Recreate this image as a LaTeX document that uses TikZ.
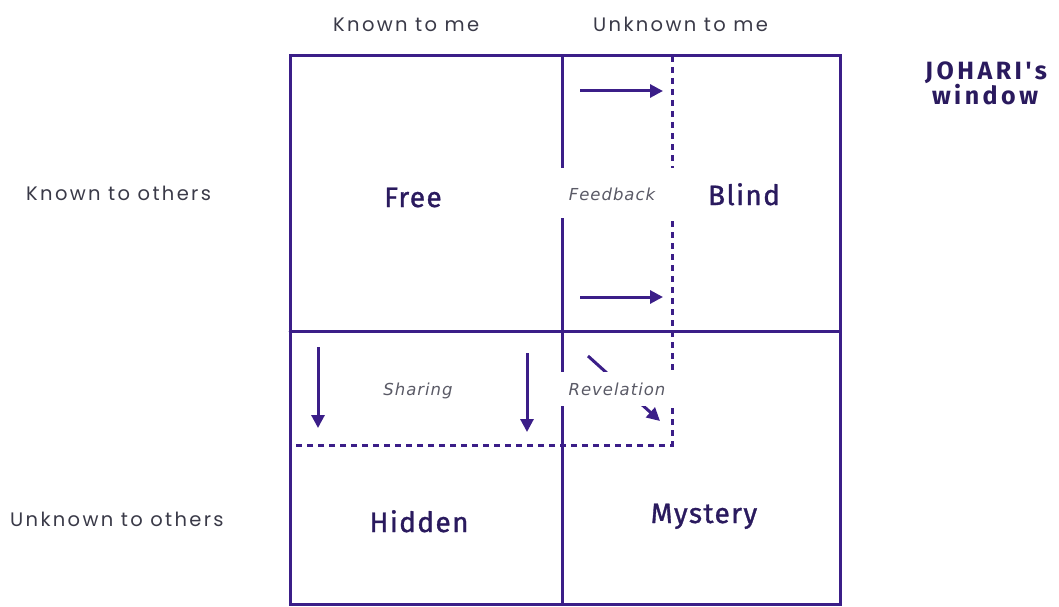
\documentclass[tikz,border=0pt]{standalone}
\usepackage{fontspec}
\setmainfont{DejaVu Sans}
\newfontfamily\headfont[LetterSpace=12]{Poppins}
\newfontfamily\italfont[LetterSpace=6]{DejaVu Sans}
\newfontfamily\handfont[LetterSpace=5,FakeBold=1.2]{Fira Sans}
\newfontfamily\titlefont[LetterSpace=14]{Fira Sans}
\usetikzlibrary{arrows.meta}
\definecolor{jline}{HTML}{3B1E88}
\definecolor{jtext}{HTML}{2A1A5E}
\definecolor{jhead}{HTML}{3A3A48}
\definecolor{jital}{HTML}{5A5A66}
\tikzset{
  frame/.style={draw=jline, line width=3pt, line cap=round},
  dashline/.style={draw=jline, line width=3pt, dash pattern=on 6pt off 5pt},
  flow/.style={draw=jline, line width=3pt, -{Triangle[length=13pt,width=13pt]}},
  head/.style={text=jhead, font=\headfont\fontsize{19.5}{22}\selectfont, inner sep=0pt},
  quad/.style={text=jtext, font=\handfont\fontsize{28}{30}\selectfont, inner sep=0pt},
  ital/.style={text=jital, font=\italfont\itshape\fontsize{16.5}{19}\selectfont, inner sep=0pt},
  mask/.style={fill=white, inner sep=0pt},
  title/.style={text=jtext, font=\titlefont\bfseries\fontsize{25}{27}\selectfont, inner sep=0pt}
}
\begin{document}
\begin{tikzpicture}[x=1pt,y=-1pt]
\useasboundingbox (0,0) rectangle (1059,607);
% coordinates of the grid
\coordinate (tl) at (290,56);
\coordinate (br) at (840,604);
\coordinate (mt) at (562,56);
\coordinate (mb) at (562,604);
\coordinate (ml) at (290,331);
\coordinate (mr) at (840,331);
\coordinate (dt) at (672,56);
\coordinate (dc) at (672,445);
\coordinate (dl) at (292,445);
% solid frame
\draw[frame] (tl) rectangle (br);
\draw[frame] (mt) -- (mb);
\draw[frame] (ml) -- (mr);
% dashed enlarged pane
\draw[dashline] (dt) -- (dc) -- (dl);
% arrows
\coordinate (fa1s) at (580,91);
\coordinate (fa1e) at (663,91);
\coordinate (fa2s) at (580,297);
\coordinate (fa2e) at (663,297);
\coordinate (sa1s) at (318,347);
\coordinate (sa1e) at (318,428);
\coordinate (sa2s) at (527,353);
\coordinate (sa2e) at (527,432);
\coordinate (ras) at (588,356);
\coordinate (rae) at (660,421);
\draw[flow] (fa1s) -- (fa1e);
\draw[flow] (fa2s) -- (fa2e);
\draw[flow] (sa1s) -- (sa1e);
\draw[flow] (sa2s) -- (sa2e);
\draw[flow] (ras) -- (rae);
% white gaps where labels cut the lines
\node[mask, minimum width=124pt, minimum height=50pt] (fbmask) at (617,193) {};
\node[mask, minimum width=124pt, minimum height=34pt] (rvmask) at (617,389) {};
% process labels
\node[ital, anchor=base] (feedback) at (612,200) {Feedback};
\node[ital, anchor=base] (revelation) at (617,395) {Revelation};
\node[ital, anchor=base] (sharing) at (418,395) {Sharing};
% quadrant names
\node[quad, anchor=base] (free) at (413,207) {Free};
\node[quad, anchor=base] (blind) at (744,205) {Blind};
\node[quad, anchor=base] (hidden) at (419,532) {Hidden};
\node[quad, anchor=base] (mystery) at (704,523) {Mystery};
% headings
\node[head, anchor=base west] (kme) at (333,32) {Known to me};
\node[head, anchor=base west] (ume) at (593,32) {Unknown to me};
\node[head, anchor=base west] (kot) at (26,200) {Known to others};
\node[head, anchor=base west] (uot) at (10,526) {Unknown to others};
% title
\node[title, anchor=base] (title1) at (986,80) {JOHARI's};
\node[title, anchor=base] (title2) at (985,105) {window};
\end{tikzpicture}
\end{document}
